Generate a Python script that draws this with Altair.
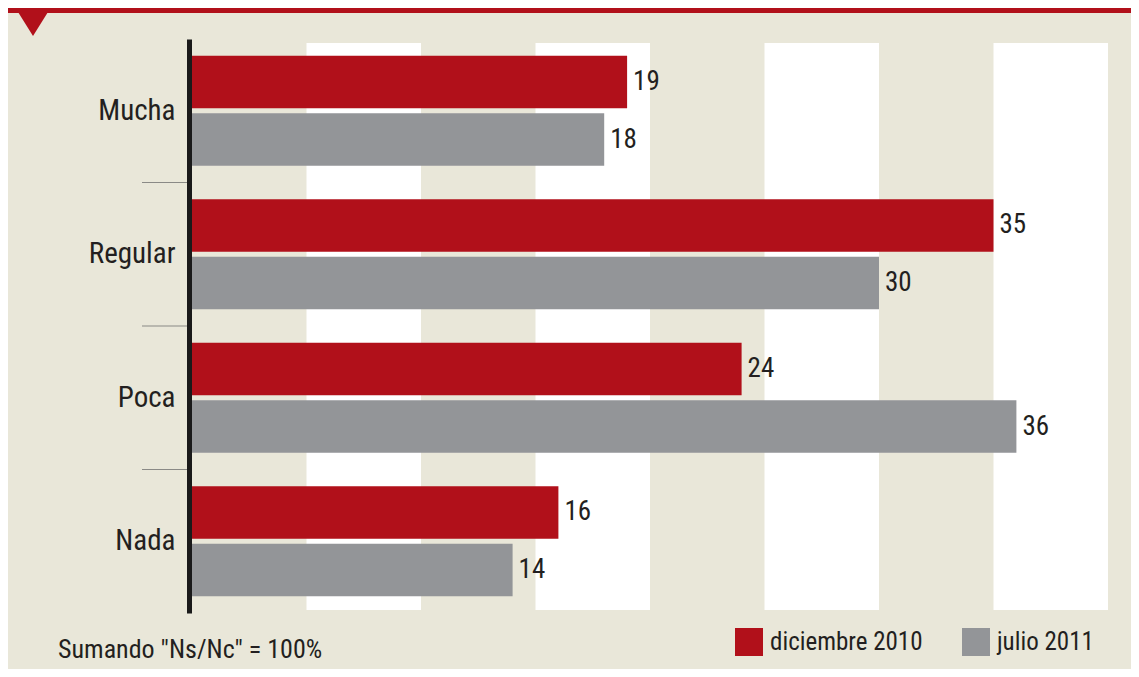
import altair as alt
import pandas as pd

categories = ["Mucha", "Regular", "Poca", "Nada"]
series = ["diciembre 2010", "julio 2011"]
dic_2010 = [19, 35, 24, 16]
jul_2011 = [18, 30, 36, 14]
stripe_start = [5, 15, 25, 35]
stripe_end = [10, 20, 30, 40]
separators = ["Regular", "Poca", "Nada"]
note = 'Sumando "Ns/Nc" = 100%'

RED = "#b1101a"
GRAY = "#939598"
BG = "#e9e7d9"
FONT = "Roboto Condensed, DejaVu Sans Condensed, sans-serif"
TXT = "#231f20"

rows = []
for c, a, b in zip(categories, dic_2010, jul_2011):
    rows.append({"cat": c, "serie": series[0], "val": a})
    rows.append({"cat": c, "serie": series[1], "val": b})
df = pd.DataFrame(rows)

stripes = pd.DataFrame({"s": stripe_start, "e": stripe_end})
seps = pd.DataFrame({"cat": separators})
one = pd.DataFrame({"t": [note]})

xscale = alt.Scale(domain=[0, 40], nice=False, zero=True)
yenc = alt.Y("cat:N", sort=categories,
             scale=alt.Scale(paddingInner=0, paddingOuter=0),
             axis=alt.Axis(title=None, ticks=False, domainColor="#1a1a1a",
                           domainWidth=5, offset=3, labelFontSize=29,
                           labelFont=FONT, labelColor=TXT, labelPadding=14,
                           grid=False))
yoff = alt.YOffset("serie:N", sort=series,
                   scale=alt.Scale(paddingInner=0.087, paddingOuter=0.29))
color = alt.Color("serie:N", sort=series,
                  scale=alt.Scale(domain=series, range=[RED, GRAY]),
                  legend=alt.Legend(title=None, orient="none", legendX=543,
                                    legendY=589, direction="horizontal",
                                    symbolType="M-1,-1H1V1H-1Z", symbolSize=784,
                                    symbolStrokeWidth=0, labelFont=FONT,
                                    labelFontSize=25, labelColor=TXT,
                                    labelOffset=7, columnPadding=39,
                                    labelLimit=300))

stripe_layer = alt.Chart(stripes).mark_rect(color="#ffffff").encode(
    x=alt.X("s:Q", scale=xscale, axis=None),
    x2="e:Q",
    y=alt.value(4),
    y2=alt.value(571),
)

bars = alt.Chart(df).mark_bar().encode(
    x=alt.X("val:Q", scale=xscale, axis=None),
    y=yenc,
    yOffset=yoff,
    color=color,
)

labels = alt.Chart(df).mark_text(align="left", baseline="middle", dx=6,
                                 font=FONT, fontSize=27, color=TXT).encode(
    x=alt.X("val:Q", scale=xscale, axis=None),
    y=alt.Y("cat:N", sort=categories),
    yOffset=alt.YOffset("serie:N", sort=series),
    text="val:Q",
)

sep_layer = alt.Chart(seps).mark_rule(color="#8a8a86", strokeWidth=1.2).encode(
    y=alt.Y("cat:N", sort=categories, bandPosition=0),
    x=alt.value(-50),
    x2=alt.value(-5),
)

header = alt.Chart(one).mark_rect(color=RED).encode(
    x=alt.value(-184), x2=alt.value(939), y=alt.value(-31), y2=alt.value(-26)
)
triangle = alt.Chart(one).mark_point(shape="M-1,-1L1,-1L0,0.6Z", size=1225,
                                     filled=True, color=RED, opacity=1).encode(
    x=alt.value(-159), y=alt.value(-13.5)
)
note_layer = alt.Chart(one).mark_text(align="left", baseline="alphabetic",
                                      font=FONT, fontSize=26, color=TXT).encode(
    x=alt.value(-134), y=alt.value(619), text="t:N"
)

chart = alt.layer(stripe_layer, sep_layer, bars, labels, header, triangle,
                  note_layer).properties(
    width=916, height=574,
    autosize=alt.AutoSizeParams(type="none"),
    padding={"left": 184, "top": 31, "right": 23, "bottom": 56},
    background=BG,
).configure_view(stroke=None)

chart.save("out.html", embed_options={"renderer": "svg", "actions": False})
